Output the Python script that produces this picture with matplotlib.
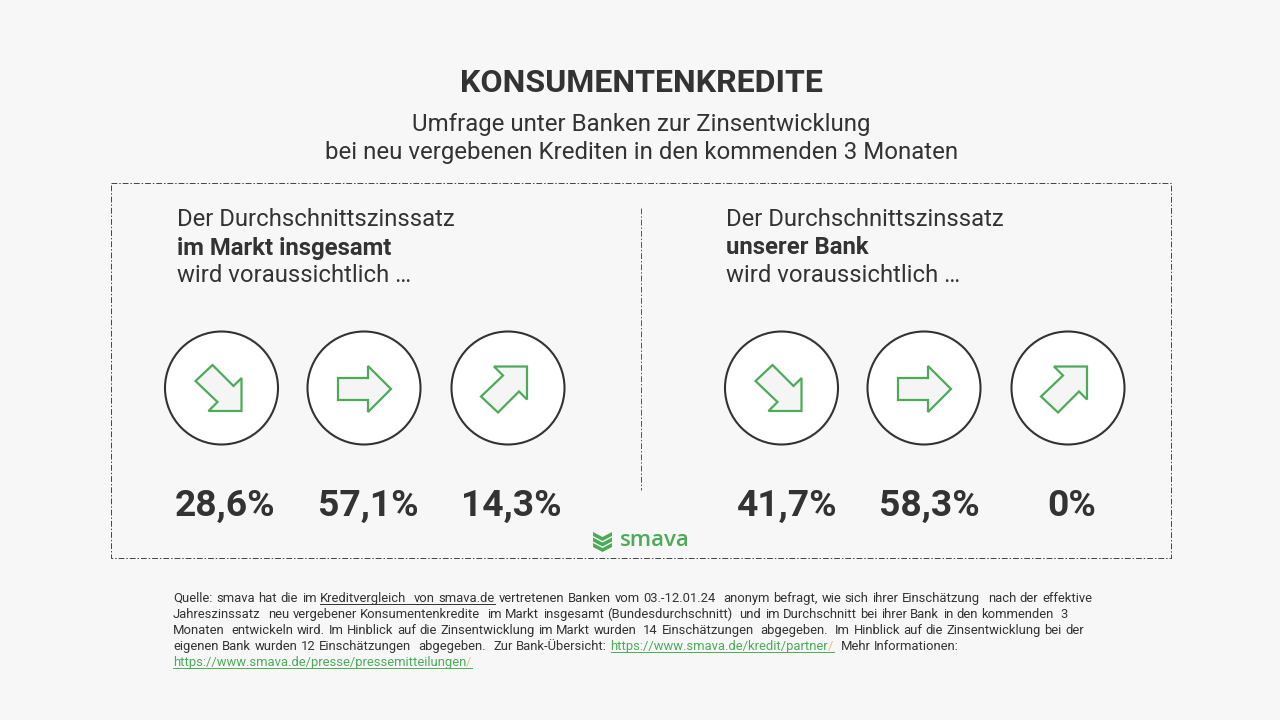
import re
import matplotlib
matplotlib.use("Agg")
import matplotlib.pyplot as plt
from matplotlib.patches import Circle, Polygon, Rectangle

plt.rcParams['font.family'] = ['Roboto', 'DejaVu Sans']

# data
title = "KONSUMENTENKREDITE"
subtitle = ["Umfrage unter Banken zur Zinsentwicklung",
            "bei neu vergebenen Krediten in den kommenden 3 Monaten"]
head_top = "Der Durchschnittszinssatz"
head_bold = ["im Markt insgesamt", "unserer Bank"]
head_end = "wird voraussichtlich …"
market_values = ["28,6%", "57,1%", "14,3%"]
bank_values = ["41,7%", "58,3%", "0%"]
directions = ["down", "flat", "up"]

# footnote: each line is (text, kind), kind 0 plain, 1 underlined dark, 2 green link
foot_lines = [
    [("Quelle: smava hat die im", 0), ("Kreditvergleich  von smava.de", 1),
     ("vertretenen Banken vom 03.-12.01.24  anonym befragt, wie sich ihrer Einschätzung  nach der effektive", 0)],
    [("Jahreszinssatz  neu vergebener Konsumentenkredite  im Markt insgesamt (Bundesdurchschnitt)  und im Durchschnitt bei ihrer Bank in den kommenden  3", 0)],
    [("Monaten  entwickeln wird. Im Hinblick auf die Zinsentwicklung im Markt wurden  14 Einschätzungen  abgegeben.  Im Hinblick auf die Zinsentwicklung bei der", 0)],
    [("eigenen Bank wurden 12 Einschätzungen  abgegeben.  Zur Bank-Übersicht:", 0),
     ("https://www.smava.de/kredit/partner/", 2), ("  Mehr Informationen:", 0)],
    [("https://www.smava.de/presse/pressemitteilungen/", 2)],
]
foot_right = [1092, 1068, 1084, 959, 473]
foot_y = [602, 618, 634, 650, 666]
foot_size = 9.4

dark = "#333333"
green = "#4bab58"
slash_col = "#e3c465"
bg = "#f7f7f7"

fig = plt.figure(figsize=(12.8, 7.2), dpi=100, facecolor=bg)
ax = fig.add_axes([0, 0, 1, 1])
ax.set_xlim(0, 1280)
ax.set_ylim(720, 0)
ax.axis("off")

# arrow outlines relative to circle centre
arrow_flat = [(-26, -10), (4, -10), (4, -22), (27, 1), (4, 24), (4, 12), (-26, 12)]
arrow_down = [(-9, -23), (12, -2), (20, -10), (20, 23), (-13, 23), (-4, 14), (-26, -7)]
arrow_up = [(x - 1, 1.5 - y) for x, y in arrow_down]
arrows = {"down": arrow_down, "flat": arrow_flat, "up": arrow_up}


def draw_arrow(cx, cy, kind):
    ax.add_patch(Circle((cx, cy), 56.5, fc="white", ec=dark, lw=1.5, zorder=2))
    pts = [(cx + x, cy + y) for x, y in arrows[kind]]
    ax.add_patch(Polygon(pts, closed=True, fc="#f5f5f5", ec=green, lw=1.6, joinstyle="miter", zorder=3))


def draw_panel(text_x, bold, centers, value_x, values):
    ax.text(text_x, 219.5, head_top, fontsize=17.2, color=dark, ha="left", va="center")
    ax.text(text_x, 248, bold, fontsize=17.2, color=dark, weight="bold", ha="left", va="center")
    ax.text(text_x, 276, head_end, fontsize=17.2, color=dark, ha="left", va="center")
    for cx, kind in zip(centers, directions):
        draw_arrow(cx, 388, kind)
    for vx, v in zip(value_x, values):
        ax.text(vx, 506, v, fontsize=26.8, color=dark, weight="bold", ha="center", va="center")


# titles
ax.text(641, 83.5, title, fontsize=23.1, color=dark, weight="bold", ha="center", va="center")
ax.text(641, 125, subtitle[0], fontsize=17.25, color=dark, ha="center", va="center")
ax.text(641.5, 153, subtitle[1], fontsize=17.25, color=dark, ha="center", va="center")

# dashed frame and divider
dash = (0, (6, 2, 1.5, 2))
ax.add_patch(Rectangle((111, 183), 1060, 375, fc="none", ec="#444444", lw=0.7, ls=dash))
ax.plot([641, 641], [208, 490], color="#555555", lw=0.7, ls=dash)

draw_panel(177, head_bold[0], [221.5, 364, 508], [225, 368, 511], market_values)
draw_panel(726, head_bold[1], [781.5, 924, 1068], [787, 929, 1071.5], bank_values)

# logo
for i in range(3):
    top = 532 + i * 5.5
    pts = [(593, top), (602.5, top + 5), (612, top), (612, top + 4),
           (602.5, top + 9), (593, top + 4)]
    ax.add_patch(Polygon(pts, closed=True, fc=green, ec="none"))
ax.text(619.5, 541, "smava", fontsize=16, color=green, family=["Open Sans", "DejaVu Sans"],
        weight="semibold", ha="left", va="center")

# footnote, justified by hand
renderer = fig.canvas.get_renderer()
foot_colors = {0: dark, 1: dark, 2: green}


def word_width(word):
    t = ax.text(0, 0, word, fontsize=foot_size)
    w = t.get_window_extent(renderer).width
    t.remove()
    return w


for parts, right, y in zip(foot_lines, foot_right, foot_y):
    words = []
    weights = []
    for part, kind in parts:
        if part.startswith(" ") and weights:
            weights[-1] = 2
        for w, sp in re.findall(r'(\S+)(\s*)', part):
            words.append((w, kind))
            weights.append(max(len(sp), 1))
    weights = weights[:-1]
    widths = [word_width(w) for w, _ in words]
    unit = (right - 173 - sum(widths)) / max(sum(weights), 1)
    x = 173
    for i, ((w, kind), width) in enumerate(zip(words, widths)):
        gap = weights[i] * unit if i < len(weights) else 0
        if kind == 2 and w.endswith("/"):
            ax.text(x, y, w[:-1], fontsize=foot_size, color=green, ha="left", va="baseline")
            ax.text(x + word_width(w[:-1]), y, "/", fontsize=foot_size, color=slash_col, ha="left", va="baseline")
        else:
            ax.text(x, y, w, fontsize=foot_size, color=foot_colors[kind], ha="left", va="baseline")
        if kind:
            x_end = x + width
            if i + 1 < len(words) and words[i + 1][1] == kind:
                x_end += gap
            ax.plot([x, x_end], [y + 2, y + 2], color=foot_colors[kind], lw=0.7)
        x += width + gap

fig.savefig("out.png", dpi=100, facecolor=bg)
